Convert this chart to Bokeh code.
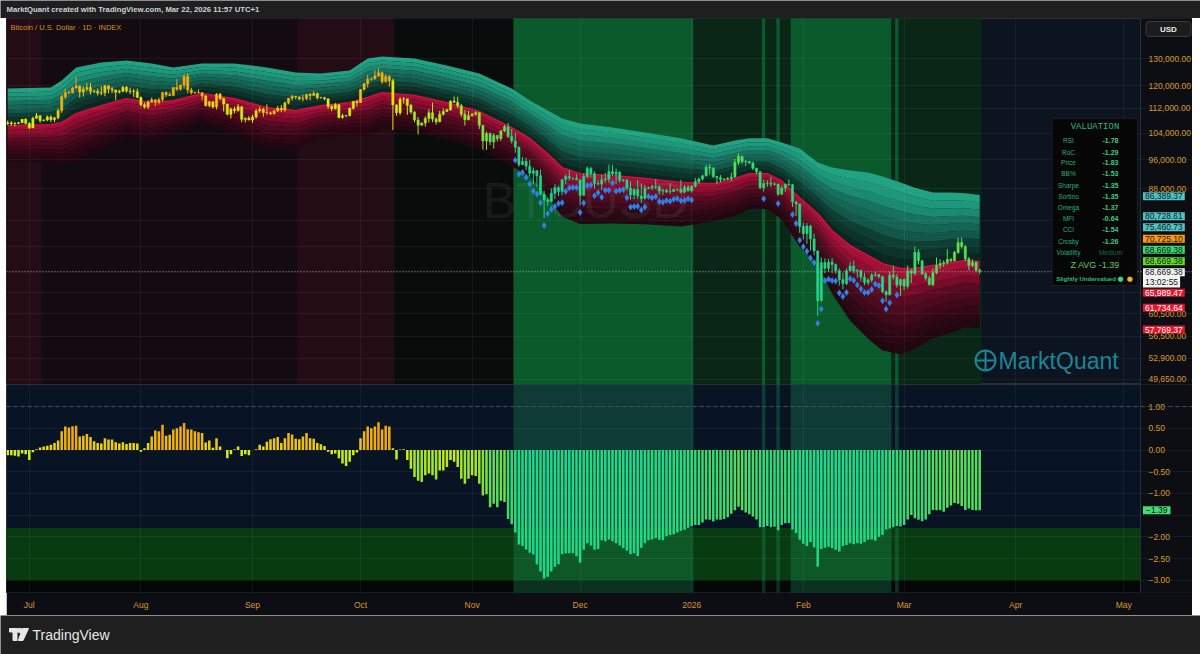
import numpy as np
import pandas as pd
from bokeh.plotting import figure
from bokeh.layouts import column, row
from bokeh.models import (ColumnDataSource, Range1d, FixedTicker, NumeralTickFormatter,
                          Label, Span, BoxAnnotation, LinearColorMapper, Grid, Spacer)
from bokeh.transform import transform
from bokeh.core.properties import value
from bokeh.embed import file_html
from bokeh.resources import INLINE

# ---------------- chart data ----------------
first_day = "2025-06-25"
open_first_k = 107.0
close_k = [
    107.3, 107.0, 107.1, 107.3, 108.4, 107.1, 105.7, 108.8, 109.6, 108.0,
    108.2, 109.2, 108.3, 108.9, 111.3, 116.0, 117.5, 117.4, 119.1, 119.8,
    117.7, 118.7, 119.3, 117.9, 117.9, 117.3, 117.4, 119.9, 118.8, 118.4,
    117.6, 117.9, 119.4, 118.0, 117.9, 117.8, 115.8, 113.3, 112.5, 114.2,
    115.0, 114.1, 115.0, 117.5, 116.7, 116.5, 119.3, 118.7, 120.2, 123.3,
    118.4, 117.4, 117.5, 117.4, 116.3, 112.9, 114.3, 112.5, 116.9, 115.4,
    113.5, 110.1, 111.8, 111.3, 112.6, 108.4, 108.8, 108.2, 109.2, 111.2,
    111.7, 110.7, 110.6, 110.2, 111.2, 112.1, 111.5, 113.9, 115.5, 116.1,
    115.9, 115.3, 115.4, 116.8, 116.5, 117.1, 115.7, 115.7, 115.3, 112.7,
    112.0, 113.3, 109.0, 109.6, 109.7, 112.1, 114.4, 114.0, 118.6, 120.6,
    122.3, 122.4, 123.5, 124.7, 121.4, 123.3, 121.7, 113.2, 110.6, 115.2,
    115.3, 113.1, 110.8, 108.2, 106.5, 107.2, 108.7, 110.6, 108.5, 107.6,
    110.1, 111.0, 111.6, 114.5, 114.1, 112.9, 110.1, 108.3, 109.6, 110.1,
    110.6, 106.5, 101.6, 103.9, 101.3, 103.3, 102.3, 104.7, 106.0, 103.0,
    101.6, 99.7, 94.6, 95.6, 94.2, 92.2, 92.9, 91.5, 86.6, 85.1,
    84.7, 86.8, 88.3, 87.3, 90.5, 91.3, 90.9, 90.8, 90.4, 86.3,
    91.3, 93.5, 92.1, 89.4, 89.3, 90.4, 90.6, 92.7, 92.0, 92.5,
    90.3, 90.3, 88.2, 86.4, 87.8, 86.1, 85.5, 88.1, 88.3, 88.6,
    88.5, 87.4, 87.6, 87.2, 87.3, 87.8, 87.8, 87.1, 88.4, 87.5,
    88.7, 89.9, 90.6, 91.5, 93.9, 93.7, 91.3, 91.0, 90.5, 90.6,
    90.8, 91.2, 95.3, 97.0, 95.5, 95.5, 95.1, 93.6, 92.6, 88.3,
    89.4, 89.5, 89.2, 89.3, 86.6, 88.2, 89.2, 89.1, 84.6, 84.1,
    78.6, 76.9, 78.7, 75.7, 73.0, 62.9, 70.5, 69.3, 70.6, 70.1,
    68.8, 67.0, 66.2, 68.8, 69.8, 68.8, 68.9, 67.5, 66.4, 66.9,
    67.9, 68.0, 67.6, 64.6, 64.0, 67.9, 67.5, 65.9, 67.0, 65.7,
    68.8, 68.3, 72.7, 70.9, 68.2, 67.3, 66.0, 68.4, 69.9, 70.3,
    70.5, 71.2, 70.9, 72.7, 74.9, 74.0, 71.3, 69.9, 70.5, 68.9,
    68.66938,
]
high_k = [
    108.0, 107.8, 107.6, 107.6, 108.5, 108.8, 107.5, 109.2, 110.5, 109.7,
    108.4, 109.7, 109.7, 109.2, 111.9, 116.8, 118.9, 118.2, 119.5, 123.2,
    119.9, 119.7, 120.9, 120.9, 118.6, 118.9, 119.7, 120.2, 120.0, 119.5,
    118.6, 118.5, 119.8, 119.8, 119.3, 118.8, 118.9, 116.1, 114.0, 114.8,
    115.7, 115.1, 115.7, 117.7, 117.9, 117.6, 119.3, 122.3, 120.3, 124.0,
    124.5, 119.2, 117.9, 118.6, 117.6, 116.7, 114.6, 114.3, 117.3, 117.4,
    115.7, 113.6, 112.3, 112.6, 113.5, 112.7, 108.9, 109.5, 109.9, 111.8,
    112.6, 112.2, 113.4, 111.0, 111.6, 112.9, 113.2, 114.3, 115.5, 116.7,
    116.3, 116.1, 116.7, 117.0, 117.3, 117.9, 117.5, 116.0, 116.0, 115.4,
    113.3, 113.9, 113.4, 110.2, 109.8, 112.3, 114.4, 114.8, 118.6, 121.0,
    123.9, 122.9, 125.6, 126.2, 125.1, 124.2, 123.8, 122.5, 113.4, 115.8,
    115.9, 115.0, 113.6, 111.1, 109.2, 107.5, 109.4, 111.7, 114.0, 109.1,
    111.2, 112.0, 111.9, 114.8, 116.1, 116.0, 113.6, 111.5, 111.2, 110.5,
    111.1, 110.8, 106.6, 104.5, 104.2, 104.0, 103.4, 105.0, 106.6, 107.3,
    105.3, 104.1, 99.9, 96.8, 96.6, 96.0, 93.8, 93.1, 93.2, 87.5,
    85.6, 88.1, 89.2, 88.7, 90.6, 91.9, 93.0, 91.0, 91.9, 90.4,
    92.1, 94.1, 94.0, 92.7, 90.3, 91.8, 92.3, 94.6, 94.5, 93.5,
    92.8, 90.6, 90.6, 90.0, 88.1, 90.3, 89.4, 89.0, 88.6, 89.1,
    90.6, 88.9, 88.0, 88.0, 89.5, 88.0, 88.0, 90.4, 89.0, 89.0,
    88.9, 90.9, 91.0, 91.8, 94.6, 94.8, 93.9, 91.5, 91.7, 90.9,
    91.2, 92.4, 96.3, 97.9, 97.2, 95.9, 95.6, 95.5, 93.6, 92.8,
    90.4, 90.3, 91.2, 89.8, 89.3, 88.9, 89.4, 90.5, 89.3, 84.9,
    84.2, 79.5, 79.4, 79.0, 76.9, 73.2, 71.6, 71.4, 71.3, 71.5,
    70.3, 69.3, 68.4, 69.3, 70.6, 70.9, 69.2, 69.0, 68.4, 67.3,
    68.3, 68.6, 68.2, 67.8, 64.9, 68.6, 69.9, 68.1, 67.2, 67.3,
    69.9, 69.1, 74.0, 73.4, 71.1, 68.5, 67.8, 69.3, 71.6, 71.2,
    71.0, 73.4, 71.5, 73.0, 76.0, 76.0, 74.3, 71.7, 71.2, 70.8,
    69.2,
]
low_k = [
    106.6, 106.4, 106.2, 106.9, 107.2, 106.8, 105.3, 105.6, 108.6, 107.3,
    107.8, 107.8, 107.5, 107.5, 108.4, 110.6, 115.3, 116.9, 117.3, 118.9,
    115.7, 116.0, 117.9, 116.8, 117.3, 116.5, 116.6, 116.2, 117.3, 117.3,
    114.8, 117.2, 117.8, 117.5, 117.0, 115.9, 115.6, 112.7, 112.0, 111.9,
    114.0, 112.7, 113.4, 114.3, 115.9, 116.3, 116.5, 118.1, 118.2, 118.9,
    117.2, 116.8, 117.1, 117.3, 114.7, 112.7, 112.4, 112.0, 111.7, 114.8,
    111.0, 109.7, 108.7, 110.4, 110.9, 107.5, 107.4, 108.1, 107.3, 108.6,
    110.6, 109.3, 110.0, 109.9, 110.1, 110.9, 110.8, 110.9, 113.4, 114.7,
    115.2, 114.8, 114.4, 114.8, 114.8, 116.6, 115.1, 115.4, 114.8, 111.9,
    111.1, 111.6, 108.7, 108.6, 109.1, 109.3, 111.6, 112.7, 113.9, 118.2,
    119.3, 121.7, 122.2, 123.1, 120.6, 121.1, 119.6, 105.0, 109.6, 109.8,
    113.6, 109.9, 110.2, 107.5, 103.6, 106.4, 106.1, 107.4, 107.5, 106.7,
    107.5, 109.6, 110.9, 111.2, 113.9, 112.2, 109.3, 106.4, 108.1, 109.4,
    109.6, 105.3, 99.0, 98.9, 100.3, 99.3, 101.4, 101.6, 104.3, 102.5,
    100.8, 98.0, 94.0, 94.5, 93.1, 91.3, 89.3, 88.6, 86.3, 80.6,
    83.5, 84.6, 85.3, 86.1, 86.3, 89.3, 90.2, 90.3, 90.3, 83.8,
    86.2, 90.9, 91.0, 88.1, 88.9, 87.7, 89.6, 89.6, 91.6, 89.3,
    89.6, 89.8, 87.6, 85.2, 85.3, 85.4, 84.4, 85.2, 87.9, 87.6,
    87.9, 86.6, 86.4, 86.9, 86.7, 87.2, 87.4, 86.8, 86.9, 87.3,
    87.0, 88.3, 89.3, 90.2, 91.3, 91.9, 90.9, 89.3, 89.7, 90.2,
    90.3, 90.0, 91.0, 94.5, 94.9, 94.3, 94.9, 93.1, 91.9, 87.9,
    87.3, 88.5, 88.5, 88.9, 86.1, 86.4, 87.2, 88.7, 83.3, 81.1,
    77.1, 75.6, 74.6, 73.1, 72.1, 60.1, 62.7, 68.3, 68.6, 68.3,
    68.2, 65.8, 65.1, 65.9, 68.7, 68.3, 67.4, 66.6, 65.9, 65.9,
    66.5, 67.6, 67.3, 64.3, 62.7, 63.9, 67.0, 65.4, 63.8, 64.9,
    65.2, 66.3, 67.9, 70.1, 67.9, 66.8, 65.8, 65.7, 68.1, 69.2,
    69.6, 70.1, 70.6, 70.8, 72.4, 73.5, 70.8, 68.9, 69.6, 68.5,
    68.2,
]
zscore = [
    -0.12, -0.12, -0.13, -0.15, -0.08, -0.10, -0.23, -0.05, 0.02, 0.06,
    0.08, 0.10, 0.12, 0.16, 0.22, 0.43, 0.54, 0.52, 0.55, 0.56,
    0.31, 0.33, 0.37, 0.30, 0.20, 0.16, 0.15, 0.27, 0.24, 0.24,
    0.18, 0.15, 0.18, 0.14, 0.16, 0.16, 0.15, -0.04, 0.04, 0.16,
    0.31, 0.45, 0.43, 0.58, 0.33, 0.35, 0.47, 0.50, 0.54, 0.62,
    0.48, 0.47, 0.43, 0.41, 0.39, 0.17, 0.22, 0.05, 0.27, 0.08,
    0.00, -0.19, -0.10, 0.02, 0.08, -0.14, -0.10, -0.12, 0.00, 0.02,
    0.12, 0.08, 0.19, 0.25, 0.27, 0.30, 0.16, 0.27, 0.39, 0.36,
    0.26, 0.25, 0.31, 0.39, 0.27, 0.26, 0.16, 0.13, 0.09, -0.04,
    -0.10, -0.08, -0.19, -0.31, -0.37, -0.27, -0.12, -0.06, 0.27, 0.43,
    0.54, 0.50, 0.54, 0.64, 0.47, 0.56, 0.54, 0.04, -0.22, 0.01,
    0.02, -0.23, -0.43, -0.62, -0.71, -0.74, -0.58, -0.54, -0.58, -0.68,
    -0.47, -0.47, -0.39, -0.23, -0.27, -0.39, -0.66, -0.78, -0.66, -0.58,
    -0.60, -0.78, -1.05, -1.02, -1.32, -1.24, -1.32, -1.17, -1.20, -1.59,
    -1.71, -1.90, -2.18, -2.21, -2.29, -2.37, -2.41, -2.64, -2.80, -2.96,
    -2.92, -2.80, -2.69, -2.63, -2.40, -2.38, -2.38, -2.38, -2.45, -2.60,
    -2.30, -2.15, -2.20, -2.30, -2.28, -2.08, -2.10, -2.06, -2.10, -2.15,
    -2.20, -2.26, -2.32, -2.40, -2.38, -2.44, -2.25, -2.15, -2.08, -2.06,
    -2.03, -2.07, -2.08, -1.99, -1.96, -1.94, -1.90, -1.86, -1.84, -1.79,
    -1.75, -1.73, -1.73, -1.67, -1.60, -1.61, -1.65, -1.60, -1.61, -1.59,
    -1.55, -1.47, -1.39, -1.31, -1.39, -1.44, -1.48, -1.53, -1.60, -1.78,
    -1.78, -1.75, -1.78, -1.77, -1.85, -1.73, -1.69, -1.68, -1.83, -1.92,
    -2.07, -2.16, -2.21, -2.12, -2.24, -2.69, -2.28, -2.25, -2.23, -2.26,
    -2.30, -2.34, -2.21, -2.19, -2.15, -2.17, -2.15, -2.16, -2.12, -2.07,
    -2.06, -2.09, -2.00, -1.96, -1.83, -1.81, -1.78, -1.75, -1.76, -1.73,
    -1.60, -1.50, -1.57, -1.61, -1.64, -1.60, -1.48, -1.38, -1.39, -1.38,
    -1.42, -1.33, -1.28, -1.22, -1.24, -1.29, -1.38, -1.35, -1.38, -1.39,
    -1.39,
]

band_dates = [
    "2025-06-25", "2025-07-07", "2025-07-10", "2025-07-14", "2025-07-21", "2025-07-28",
    "2025-08-04", "2025-08-10", "2025-08-18", "2025-08-27", "2025-09-05", "2025-09-13",
    "2025-09-20", "2025-09-28", "2025-10-03", "2025-10-07", "2025-10-16", "2025-10-25",
    "2025-11-03", "2025-11-12", "2025-11-17", "2025-11-22", "2025-11-26", "2025-12-01",
    "2025-12-10", "2025-12-19", "2025-12-29", "2026-01-07", "2026-01-13", "2026-01-17",
    "2026-01-22", "2026-01-26", "2026-01-31", "2026-02-05", "2026-02-09", "2026-02-14",
    "2026-02-19", "2026-02-23", "2026-02-28", "2026-03-04", "2026-03-09", "2026-03-14",
    "2026-03-18", "2026-03-22",
]
band_center_k = [
    106.4, 106.7, 107.4, 110.3, 113.0, 115.4, 114.0, 114.7, 117.2, 115.4, 112.3, 111.3,
    113.0, 114.0, 115.8, 117.5, 116.5, 114.0, 111.0, 105.8, 102.4, 97.8, 93.8, 92.1,
    91.6, 90.8, 89.7, 89.4, 90.8, 92.1, 92.1, 90.1, 85.7, 81.7, 77.6, 74.2,
    72.0, 70.3, 69.3, 69.3, 69.9, 70.5, 71.0, 70.7251,
]
band_top_k = [
    118.9, 119.3, 121.8, 126.7, 128.6, 129.4, 128.2, 126.7, 128.2, 128.2, 126.7, 124.8,
    124.4, 125.5, 130.1, 130.9, 130.1, 127.4, 124.4, 118.9, 114.7, 111.3, 108.7, 107.1,
    105.8, 104.2, 102.4, 100.2, 101.7, 102.4, 102.4, 101.1, 99.3, 95.2, 93.8, 93.0,
    92.4, 91.3, 89.7, 88.3, 87.0, 87.0, 86.8, 86.38937,
]

regime_start = ["2025-06-24", "2025-07-05", "2025-09-14", "2025-10-11", "2025-11-13", "2026-01-02",
                "2026-01-21", "2026-01-22", "2026-01-25", "2026-01-26", "2026-01-29", "2026-02-26",
                "2026-02-27", "2026-02-28"]
regime_end = ["2025-07-04", "2025-09-13", "2025-10-10", "2025-11-12", "2026-01-01", "2026-01-20",
              "2026-01-21", "2026-01-24", "2026-01-25", "2026-01-28", "2026-02-25", "2026-02-26",
              "2026-02-27", "2026-03-22"]
regime_kind = ["hot", "warm", "hot", "neutral", "under", "cool",
               "under", "cool", "under", "cool", "under", "cool",
               "under", "cool"]

month_ticks = ["2025-07-01", "2025-08-01", "2025-09-01", "2025-10-01", "2025-11-01", "2025-12-01",
               "2026-01-01", "2026-02-01", "2026-03-01", "2026-04-01", "2026-05-01"]
month_labels = ["Jul", "Aug", "Sep", "Oct", "Nov", "Dec", "2026", "Feb", "Mar", "Apr", "May"]
# price-scale levels (grid), and the ones whose labels are not hidden behind value tags
price_ticks = [130000, 120000, 112000, 104000, 96000, 88000, 80000, 74000, 68500, 64500,
               60500, 56500, 52900, 49650]
price_ticks_shown = [130000, 120000, 112000, 104000, 96000, 88000, 60500, 56500, 52900, 49650]
z_ticks = [1.0, 0.5, 0.0, -0.5, -1.0, -1.5, -2.0, -2.5, -3.0]
z_ticks_shown = [1.0, 0.5, 0.0, -0.5, -1.0, -2.0, -2.5, -3.0]
z_tick_labels = ["1.00", "0.50", "0.00", "\u22120.50", "\u22121.00", "\u22122.00",
                 "\u22122.50", "\u22123.00"]
z_zone = [-1.8, -3.0]

val_names = ["RSI", "RoC", "Price", "BB%", "Sharpe", "Sortino", "Omega", "MFI", "CCI", "Crosby",
             "Volatility"]
val_values = ["-1.78", "-1.29", "-1.83", "-1.53", "-1.35", "-1.35", "-1.37", "-0.64", "-1.54",
              "-1.26", "Medium"]
z_avg = -1.39
valuation_text = "Slightly Undervalued"
last_price = 68669.38
level_values = [86389.37, 80728.61, 75460.73, 70725.10, 68669.38, 68669.38, 68669.38,
                65989.47, 61734.64, 57769.37]
countdown = "13:02:55"

# ---------------- pixel helpers (layout only) ----------------
DAY = 86400000.0
JUL1_MS = pd.Timestamp("2025-07-01").value / 1e6


def xms(px):
    return JUL1_MS + (px - 28.8) / 3.6 * DAY


def yp(py):
    return 88000.0 * np.exp((188.3 - py) / 333.0)


def zp(py):
    return (449.5 - py) / 43.4


FONT = "Liberation Sans"
AXIS_ORANGE = "#d8962a"
AXIS_BG = "#0c0e13"
GRAY = "#1f1f1f"

# ---------------- derived columns ----------------
n = len(close_k)
assert len(high_k) == n and len(low_k) == n and len(zscore) == n
dates = pd.date_range(first_day, periods=n, freq="D")
c = np.array(close_k) * 1000.0
o = np.array([open_first_k] + close_k[:-1]) * 1000.0
h = np.array(high_k) * 1000.0
l = np.array(low_k) * 1000.0
z = np.array(zscore)
src = ColumnDataSource(dict(t=dates, o=o, h=h, l=l, c=c,
                            top=np.maximum(o, c), bot=np.minimum(o, c), z=z))

reg_s = pd.to_datetime(regime_start)
reg_e = pd.to_datetime(regime_end)
under = np.zeros(n, dtype=bool)
for s, e, k in zip(reg_s, reg_e, regime_kind):
    if k == "under":
        under |= np.asarray((dates >= s) & (dates <= e))
sig_src = ColumnDataSource(dict(t=dates[under], y=l[under] * 0.978))

half = pd.Timedelta(hours=12)
strip_left = [(s - half).value / 1e6 for s in reg_s]
strip_right = [(e + half).value / 1e6 for e in reg_e]
tone_up = {"hot": "#240c15", "warm": "#130b10", "neutral": "#080c0b",
           "under": "#0b5a2c", "cool": "#0a2617"}
strip_src = ColumnDataSource(dict(left=strip_left, right=strip_right,
                                  color=[tone_up[k] for k in regime_kind]))
ul = [a for a, k in zip(strip_left, regime_kind) if k == "under"]
ur = [b for b, k in zip(strip_right, regime_kind) if k == "under"]
under_src = ColumnDataSource(dict(left=ul, right=ur))

# colour map for z-score (candles + histogram)
anch_v = [-2.6, -2.0, -1.6, -1.3, -1.0, -0.6, -0.2, 0.0, 0.2, 0.4, 0.7]
anch_c = ["#1ed68a", "#28d880", "#3cda6e", "#60de58", "#82e240", "#a8e828", "#ceee18",
          "#e6e814", "#eed214", "#f0b812", "#f0a010"]
rgb = np.array([[int(cc[i:i + 2], 16) for i in (1, 3, 5)] for cc in anch_c], float)
pal = []
for v in np.linspace(-2.6, 0.7, 67):
    r, g, b = (np.interp(v, anch_v, rgb[:, j]) for j in range(3))
    pal.append("#%02x%02x%02x" % (int(r), int(g), int(b)))
cmap = LinearColorMapper(palette=pal, low=-2.6, high=0.7)

month_ms = [pd.Timestamp(m).value / 1e6 for m in month_ticks]
xr = Range1d(start=xms(6), end=xms(1192))

# ---------------- header ----------------
hdr = figure(width=1200, height=18, x_range=Range1d(0, 1200), y_range=Range1d(18, 0),
             x_axis_location=None, y_axis_location=None, toolbar_location=None,
             output_backend="svg", min_border=0, outline_line_color=None,
             background_fill_color=GRAY, border_fill_color=GRAY)
hdr.grid.visible = False
hdr.add_layout(Label(x=6, y=9, text="MarktQuant created with TradingView.com, Mar 22, 2026 11:57 UTC+1",
                     text_font=FONT, text_font_size="7.7px", text_font_style="bold",
                     text_color="#cfd2d8", text_baseline="middle"))

# ---------------- upper (price) panel ----------------
up = figure(width=1186, height=366, x_range=xr, y_range=Range1d(yp(384), yp(18)),
            x_axis_type="datetime", y_axis_type="log", x_axis_location=None,
            y_axis_location="right", toolbar_location=None, output_backend="svg",
            min_border=0, background_fill_color="#0c1420", border_fill_color=AXIS_BG,
            outline_line_color="#2a2e39")
up.xgrid.visible = False
up.ygrid.visible = False
ya = up.yaxis[0]
ya.fixed_location = xms(1140)
ya.ticker = FixedTicker(ticks=price_ticks_shown)
ya.formatter = NumeralTickFormatter(format="0,0.00")
ya.major_label_text_color = AXIS_ORANGE
ya.major_label_text_font = FONT
ya.major_label_text_font_size = "8.5px"
ya.axis_line_color = "#2a2e39"
ya.major_tick_line_color = None
ya.minor_tick_line_color = None
ya.major_tick_out = 0
ya.major_tick_in = 0
ya.major_label_standoff = 8

up.quad(left="left", right="right", bottom=yp(420), top=yp(0), color="color",
        source=strip_src, line_color=None)

bd = pd.to_datetime(band_dates)
C = np.array(band_center_k) * 1000.0
T = np.array(band_top_k) * 1000.0
ratio = T / C
green_cols = ["#0a2620", "#0c3229", "#0f3e33", "#12574a", "#156454", "#18715e",
              "#1b8a70", "#1e977a", "#21a383"]
red_cols = ["#a80f38", "#8e0d31", "#760b2a", "#5a0a22", "#4d091e", "#40081a",
            "#330816", "#2a0713", "#220610"]
for k in range(9):
    up.varea(x=bd, y1=C * ratio ** (k / 9), y2=C * ratio ** ((k + 1) / 9), fill_color=green_cols[k])
    up.varea(x=bd, y1=C * ratio ** (-k / 9), y2=C * ratio ** (-(k + 1) / 9), fill_color=red_cols[k])
up.line(x=bd, y=C, line_color="#d3123e", line_width=1.3)

up.text(x=[xms(585)], y=[yp(200)], text=["BTCUSD"], text_font=value(FONT),
        text_font_size=value("50px"), text_color="#ffffff", text_alpha=0.06,
        text_align="center", text_baseline="middle")

up.segment(x0="t", y0="l", x1="t", y1="h", source=src,
           line_color=transform("z", cmap), line_width=1)
up.vbar(x="t", width=0.62 * DAY, top="top", bottom="bot", source=src,
        fill_color=transform("z", cmap), line_color=transform("z", cmap), line_width=0.5)
up.scatter(x="t", y="y", source=sig_src, marker="diamond", size=7,
           fill_color="#2f80ea", line_color=None)

# MarktQuant watermark
up.scatter(x=[xms(985)], y=[yp(360)], marker="circle_cross", size=20, fill_color=None,
           line_color="#1b8496", line_width=2)
up.text(x=[xms(998)], y=[yp(360)], text=["MarktQuant"], text_font=value(FONT),
        text_font_size=value("23px"), text_color="#1b8496", text_align="left",
        text_baseline="middle")

# price-scale area (inside the frame, right of the fixed axis)
up.quad(left=[xms(1140)], right=[xms(1210)], bottom=[yp(420)], top=[yp(0)],
        fill_color=AXIS_BG, line_color=None)

gx = Grid(dimension=0, ticker=FixedTicker(ticks=month_ms), grid_line_color="#ffffff",
          grid_line_alpha=0.05, level="annotation")
gy = Grid(dimension=1, ticker=FixedTicker(ticks=price_ticks), grid_line_color="#ffffff",
          grid_line_alpha=0.05, level="annotation")
up.add_layout(gx, "center")
up.add_layout(gy, "center")

up.add_layout(Span(location=last_price, dimension="width", line_color="#9598a1",
                   line_dash="1 2", line_width=1))
up.add_layout(Label(x=xms(10), y=yp(27), text="Bitcoin / U.S. Dollar \u00b7 1D \u00b7 INDEX",
                    text_font=FONT, text_font_size="7.5px", text_color="#d4901e",
                    text_baseline="middle"))

# valuation table
up.add_layout(BoxAnnotation(left=xms(1051.7), right=xms(1136.7), top=yp(118), bottom=yp(285),
                            fill_color="#060606", fill_alpha=0.96, line_color="#3c3c3c",
                            line_width=1))
up.add_layout(Label(x=xms(1094.5), y=yp(126), text="VALUATION", text_font="Liberation Mono",
                    text_font_size="9px", text_color="#2bb58e", text_align="center",
                    text_baseline="middle"))
row_py = [140, 151.7, 162.3, 173.3, 185, 196, 207.3, 217.7, 229, 240.7, 251.7]
for name, val, py in zip(val_names, val_values, row_py):
    up.add_layout(Label(x=xms(1068), y=yp(py), text=name, text_font=FONT,
                        text_font_size="6.5px", text_color="#22b07a", text_align="center",
                        text_baseline="middle"))
    dim = val == "Medium"
    up.add_layout(Label(x=xms(1110), y=yp(py), text=val, text_font=FONT,
                        text_font_size="6.5px" if dim else "7px",
                        text_font_style="normal" if dim else "bold",
                        text_color="#1d6a46" if dim else "#2fd07f", text_align="center",
                        text_baseline="middle"))
up.add_layout(Label(x=xms(1094.7), y=yp(264), text=f"Z AVG {z_avg:.2f}", text_font=FONT,
                    text_font_size="9px", text_color="#5cc862", text_align="center",
                    text_baseline="middle"))
up.add_layout(Label(x=xms(1085.5), y=yp(278.3), text=valuation_text, text_font=FONT,
                    text_font_size="6px", text_font_style="bold", text_color="#22c07f",
                    text_align="center", text_baseline="middle"))
up.add_layout(Label(x=xms(1120), y=yp(278.3), text="\u25cf", text_font="DejaVu Sans",
                    text_font_size="7px", text_color="#3ecf8e", text_align="center",
                    text_baseline="middle"))
up.add_layout(Label(x=xms(1129.3), y=yp(278.3), text="\u25cf", text_font="DejaVu Sans",
                    text_font_size="7px", text_color="#f0b429", text_align="center",
                    text_baseline="middle"))

# right-axis tags
up.add_layout(Label(x=xms(1145.5), y=yp(28.5), text="USD", text_font=FONT, text_font_size="8px",
                    text_font_style="bold", text_color="#e8e8e8", text_baseline="middle",
                    background_fill_color="#1c1c1c", border_line_color="#3a3a3a",
                    padding=(14, 3), border_radius=3, level="overlay"))
tag_py = [195.7, 215.7, 226.7, 238.3, 249.3, 260.7, 271.7, 292.3, 307.3, 329.0]
tag_bg = ["#50c3c3", "#50c3c3", "#50c3c3", "#ff9800", "#3cd56e", "#5ee01e", "#f4f4f4",
          "#e3162e", "#e3162e", "#e3162e"]
tag_fg = ["#131722"] * 7 + ["#ffffff"] * 3
for val, py, bg, fg in zip(level_values, tag_py, tag_bg, tag_fg):
    up.add_layout(Label(x=xms(1142.5), y=yp(py), text=f"{val:,.2f}", text_font=FONT,
                        text_font_size="8.5px", text_color=fg, text_baseline="middle",
                        background_fill_color=bg, padding=(2, 1), level="overlay"))
up.add_layout(Label(x=xms(1142.5), y=yp(281), text=countdown, text_font=FONT,
                    text_font_size="8.5px", text_color="#131722", text_baseline="middle",
                    background_fill_color="#f4f4f4", padding=(2, 1), level="overlay"))

# ---------------- lower (z-score) panel ----------------
lo = figure(width=1186, height=231, x_range=xr, y_range=Range1d(zp(592), zp(384)),
            x_axis_type="datetime", y_axis_location="right", toolbar_location=None,
            output_backend="svg", min_border=0, min_border_bottom=23,
            background_fill_color="#081423", border_fill_color=AXIS_BG,
            outline_line_color="#2a2e39")
lo.xgrid.visible = False
lo.ygrid.visible = False
lo.quad(left=[xms(0)], right=[xms(1200)], bottom=[z_zone[1]], top=[z_zone[0]],
        fill_color="#083b10", line_color=None)
lo.quad(left=[xms(0)], right=[xms(1200)], bottom=[zp(620)], top=[z_zone[1]],
        fill_color="#040607", line_color=None)
lo.quad(left="left", right="right", bottom=zp(620), top=zp(370), source=under_src,
        fill_color="#22a060", fill_alpha=0.28, line_color=None)
lo.vbar(x="t", width=0.7 * DAY, top="z", bottom=0, source=src,
        fill_color=transform("z", cmap), line_color=None)
lo.quad(left=[xms(1140)], right=[xms(1210)], bottom=[zp(620)], top=[zp(370)],
        fill_color=AXIS_BG, line_color=None)

lx = lo.xaxis[0]
lx.ticker = FixedTicker(ticks=month_ms)
lx.major_label_overrides = {m: lab for m, lab in zip(month_ms, month_labels)}
lx.major_label_text_color = AXIS_ORANGE
lx.major_label_text_font = FONT
lx.major_label_text_font_size = "8.5px"
lx.axis_line_color = None
lx.major_tick_line_color = None
lx.minor_tick_line_color = None
lx.major_tick_out = 0
lx.major_label_standoff = 7

ly = lo.yaxis[0]
ly.fixed_location = xms(1140)
ly.ticker = FixedTicker(ticks=z_ticks_shown)
ly.major_label_overrides = {t: s for t, s in zip(z_ticks_shown, z_tick_labels)}
ly.major_label_text_color = AXIS_ORANGE
ly.major_label_text_font = FONT
ly.major_label_text_font_size = "8.5px"
ly.axis_line_color = "#2a2e39"
ly.major_tick_line_color = None
ly.minor_tick_line_color = None
ly.major_tick_out = 0
ly.major_tick_in = 0
ly.major_label_standoff = 8

lo.add_layout(Grid(dimension=0, ticker=FixedTicker(ticks=month_ms), grid_line_color="#ffffff",
                   grid_line_alpha=0.05, level="annotation"), "center")
lo.add_layout(Grid(dimension=1, ticker=FixedTicker(ticks=z_ticks), grid_line_color="#ffffff",
                   grid_line_alpha=0.05, level="annotation"), "center")
lo.add_layout(Span(location=1.0, dimension="width", line_color="#4a5060", line_dash="4 3",
                   line_width=1))
lo.add_layout(Label(x=xms(1142.5), y=z_avg, text="\u2212" + f"{abs(z_avg):.2f}", text_font=FONT,
                    text_font_size="8.5px", text_color="#131722", text_baseline="middle",
                    background_fill_color="#46dc6e", padding=(3, 1), level="overlay"))

# ---------------- footer ----------------
ftr = figure(width=1200, height=39, x_range=Range1d(0, 1200), y_range=Range1d(39, 0),
             x_axis_location=None, y_axis_location=None, toolbar_location=None,
             output_backend="svg", min_border=0, outline_line_color=None,
             background_fill_color=GRAY, border_fill_color=GRAY)
ftr.grid.visible = False
ftr.quad(left=[9], right=[17], top=[13], bottom=[16.5], color="#e8e8e8")
ftr.quad(left=[12.5], right=[16.5], top=[13], bottom=[25], color="#e8e8e8")
ftr.scatter(x=[19.3], y=[15], size=4.5, color="#e8e8e8")
ftr.patch(x=[22, 28, 22.5, 17.8], y=[13, 13, 25, 25], color="#e8e8e8")
ftr.add_layout(Label(x=32, y=19, text="TradingView", text_font=FONT, text_font_size="14px",
                     text_color="#e8e8e8", text_baseline="middle"))

mid = row(Spacer(width=6, height=597), column(up, lo, spacing=0), Spacer(width=8, height=597),
          spacing=0)
layout = column(hdr, mid, ftr, spacing=0)
html = file_html(layout, INLINE, title="BTCUSD valuation")
html = html.replace("<body>", '<body style="background-color:#1f1f1f;">', 1)
open("out.html", "w").write(html)
